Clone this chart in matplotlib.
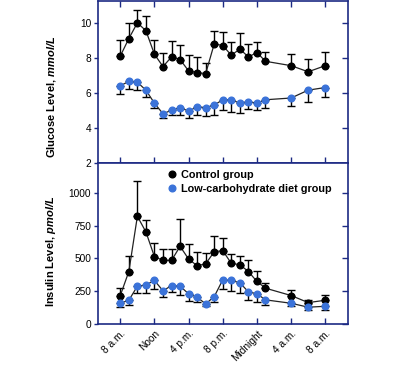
import matplotlib
matplotlib.use("Agg")
import matplotlib.pyplot as plt

# hours after 8 a.m.
hours = [0, 1, 2, 3, 4, 5, 6, 7, 8, 9, 10, 11, 12, 13, 14, 15, 16, 17, 20, 22, 24]

glu_ctrl = [8.1, 9.1, 10.0, 9.55, 8.2, 7.5, 8.05, 7.9, 7.25, 7.15, 7.1, 8.8, 8.7, 8.15, 8.5, 8.05, 8.3, 7.8, 7.55, 7.2, 7.55]
glu_ctrl_err = [0.9, 0.9, 0.75, 0.85, 0.8, 0.8, 0.9, 0.85, 0.9, 0.9, 0.6, 0.75, 0.8, 0.75, 0.9, 0.75, 0.6, 0.55, 0.65, 0.75, 0.8]
glu_lc = [6.4, 6.65, 6.6, 6.15, 5.4, 4.8, 5.0, 5.15, 4.95, 5.2, 5.15, 5.3, 5.6, 5.6, 5.4, 5.5, 5.4, 5.6, 5.7, 6.15, 6.3]
glu_lc_err = [0.45, 0.45, 0.45, 0.4, 0.3, 0.25, 0.3, 0.45, 0.4, 0.5, 0.5, 0.6, 0.6, 0.7, 0.55, 0.45, 0.4, 0.5, 0.45, 0.65, 0.55]

ins_ctrl = [217, 400, 821, 702, 513, 485, 485, 592, 495, 444, 459, 551, 559, 462, 452, 400, 324, 273, 217, 163, 181]
ins_ctrl_err = [56, 118, 271, 94, 107, 89, 84, 209, 112, 107, 79, 122, 97, 69, 66, 87, 82, 36, 43, 21, 38]
ins_lc = [158, 181, 288, 298, 332, 253, 293, 288, 230, 204, 153, 209, 337, 332, 314, 245, 230, 184, 158, 128, 135]
ins_lc_err = [25, 33, 48, 58, 67, 49, 48, 69, 57, 36, 18, 41, 69, 77, 79, 61, 64, 36, 18, 21, 25]

tick_hours = [0, 4, 8, 12, 16, 20, 24]
tick_labels = ["8 a.m.", "Noon", "4 p.m.", "8 p.m.", "Midnight", "4 a.m.", "8 a.m."]

NAVY = "#1c2a84"
BLUE = "#3b73d9"
FONT = ["Liberation Sans", "DejaVu Sans"]
plt.rcParams["font.family"] = FONT
plt.rcParams["mathtext.fontset"] = "custom"
plt.rcParams["mathtext.bfit"] = "Liberation Sans:italic:bold"

fig = plt.figure(figsize=(4.0, 3.66), dpi=100)
ax1 = fig.add_axes([0.245, 0.5555, 0.625, 0.4418])
ax2 = fig.add_axes([0.245, 0.1148, 0.625, 0.4407])

def draw(ax, yc, ec, yl, el):
    ax.errorbar(hours, yc, yerr=[[0] * len(ec), ec], fmt="none", ecolor="black",
                elinewidth=1.0, capsize=3.2, capthick=1.0, zorder=2)
    ax.errorbar(hours, yl, yerr=[el, [0] * len(el)], fmt="none", ecolor="black",
                elinewidth=1.0, capsize=3.2, capthick=1.0, zorder=2)
    ax.plot(hours, yc, color="#222222", lw=0.9, marker="o", ms=4.8,
            mfc="black", mec="black", zorder=3, label="Control group")
    ax.plot(hours, yl, color="#222222", lw=0.9, marker="o", ms=4.8,
            mfc=BLUE, mec=BLUE, zorder=3, label="Low-carbohydrate diet group")

draw(ax1, glu_ctrl, glu_ctrl_err, glu_lc, glu_lc_err)
draw(ax2, ins_ctrl, ins_ctrl_err, ins_lc, ins_lc_err)

for ax in (ax1, ax2):
    ax.set_xlim(-2.61, 26.66)
    for s in ax.spines.values():
        s.set_color(NAVY)
        s.set_linewidth(1.2)
    ax.tick_params(axis="y", which="both", left=True, right=True, direction="out",
                   length=3, width=1.0, color=NAVY, labelsize=7.3, pad=2)
    ax.set_xticks(tick_hours)

# right ticks inward
for ax in (ax1, ax2):
    for t in ax.yaxis.get_major_ticks():
        t.tick2line.set_marker(matplotlib.markers.TICKLEFT)
        t.tick2line.set_markersize(4)

ax1.set_ylim(2, 11.25)
ax1.set_yticks([2, 4, 6, 8, 10])
ax1.tick_params(axis="x", direction="in", top=True, bottom=True, length=4, width=1.0,
                color=NAVY, labelbottom=False)

ax2.set_ylim(0, 1230)
ax2.set_yticks([0, 250, 500, 750, 1000])
ax2.tick_params(axis="x", direction="in", top=False, bottom=True, length=4, width=1.0,
                color=NAVY, labelsize=7.3, pad=3)
ax2.set_xticklabels(tick_labels, rotation=45, ha="right", rotation_mode="anchor")

ax1.set_ylabel(r"Glucose Level, $\mathbfit{mmol/L}$", fontsize=8, fontweight="bold")
ax2.set_ylabel(r"Insulin Level, $\mathbfit{pmol/L}$", fontsize=8, fontweight="bold")
ax1.yaxis.set_label_coords(-0.16, 0.41)
ax2.yaxis.set_label_coords(-0.16, 0.45)

leg = ax2.legend(loc="upper left", bbox_to_anchor=(0.25, 1.0), frameon=False,
                 prop={"size": 7.8, "weight": "bold", "family": FONT},
                 handlelength=0.8, handletextpad=0.4, labelspacing=0.3, borderaxespad=0.3)
for h in leg.legend_handles:
    h.set_linestyle("none")

fig.savefig("out.png", dpi=100)
